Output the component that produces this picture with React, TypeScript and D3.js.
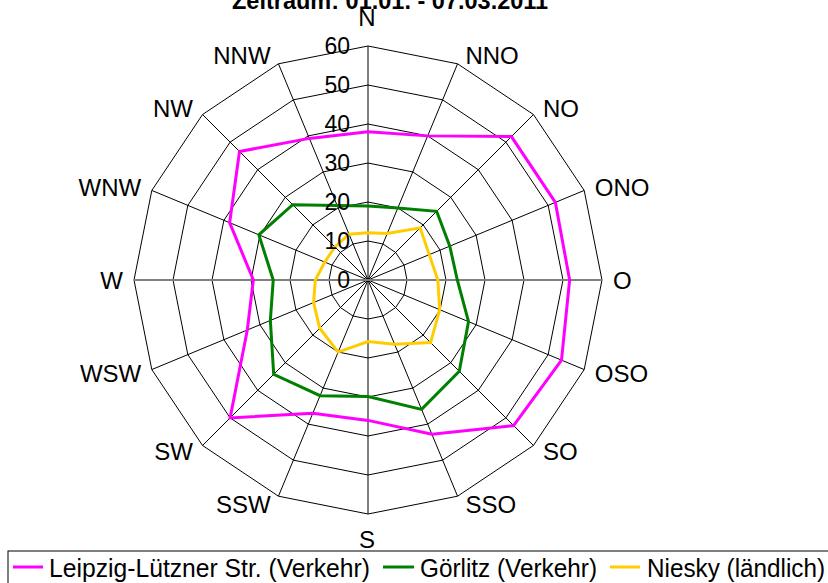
import React from "react";
import * as d3 from "d3";

const directions = ["N", "NNO", "NO", "ONO", "O", "OSO", "SO", "SSO", "S", "SSW", "SW", "WSW", "W", "WNW", "NW", "NNW"];
const leipzig = [38, 40, 52, 52, 51.7, 53.7, 52.8, 42.8, 36, 37, 50, 33.5, 29.4, 38.4, 46.6, 39.3];
const goerlitz = [19, 20, 24.9, 22.7, 22.9, 27.9, 33.1, 35.9, 29.9, 32.1, 34.2, 27.1, 24.3, 30.3, 27.3, 20.7];
const niesky = [12.1, 12.9, 18.9, 17, 17.9, 19.9, 22.7, 17.8, 15.8, 20, 17.5, 15.1, 13.5, 12, 12, 12.7];
const ticks = [0, 10, 20, 30, 40, 50, 60];
const seriesNames = ["Leipzig-Lützner Str. (Verkehr)", "Görlitz (Verkehr)", "Niesky (ländlich)"];
const seriesColors = ["#FF00FF", "#008000", "#FFCC00"];
const title = "Zeitraum: 01.01. - 07.03.2011";

export default function App() {
  const cx = 368;
  const cy = 280;
  const R = 234;
  const r = d3.scaleLinear().domain([0, 60]).range([0, R]);
  const n = directions.length;
  const ang = (i: number) => (i * 2 * Math.PI) / n;
  const pt = (i: number, v: number) => [r(v) * Math.sin(ang(i)), -r(v) * Math.cos(ang(i))];

  const ringLine = d3
    .lineRadial<number>()
    .angle((_, i) => ang(i))
    .radius((d) => r(d))
    .curve(d3.curveLinearClosed);

  const allSeries = [leipzig, goerlitz, niesky];
  const legendLayout = [
    { x1: 13, x2: 43, tx: 49, tw: 321 },
    { x1: 383, x2: 414, tx: 420, tw: 177 },
    { x1: 610, x2: 640, tx: 647, tw: 178 },
  ];

  return (
    <svg
      width={828}
      height={583}
      style={{ position: "absolute", left: 0, top: 0, background: "#fff" }}
      fontFamily="'Liberation Sans', Arial, sans-serif"
    >
      <rect x={0} y={0} width={828} height={583} fill="#fff" />
      <text x={232} y={9} fontSize={23.5} fontWeight="bold" fill="#000">
        {title}
      </text>
      <g transform={`translate(${cx},${cy})`}>
        {ticks.slice(1).map((t) => (
          <path key={t} d={ringLine(directions.map(() => t)) || ""} fill="none" stroke="#000" strokeWidth={1} />
        ))}
        {directions.map((d, i) => {
          const [x, y] = pt(i, 60);
          return <line key={d} x1={0} y1={0} x2={x} y2={y} stroke="#000" strokeWidth={1} />;
        })}
        <line x1={pt(12, 60)[0]} y1={0} x2={pt(4, 60)[0]} y2={0} stroke="#808080" strokeWidth={2} />
        {allSeries.map((s, k) => (
          <path
            key={k}
            d={ringLine(s) || ""}
            fill="none"
            stroke={seriesColors[k]}
            strokeWidth={3}
            strokeLinejoin="miter"
          />
        ))}
        {ticks.map((t) => (
          <text key={t} x={-18} y={-r(t) + 8.2} fontSize={23} textAnchor="end" fill="#000">
            {t}
          </text>
        ))}
        {directions.map((d, i) => {
          const [x, y] = pt(i, 60);
          const s = Math.sin(ang(i));
          const c = Math.cos(ang(i));
          if (Math.abs(s) < 1e-6) {
            const by = c > 0 ? y - 20.4 : y + 34;
            return (
              <text key={d} x={x - 1} y={by} fontSize={24} textAnchor="middle" fill="#000">
                {d}
              </text>
            );
          }
          const dx = (6 + 5 * Math.abs(s)) * Math.sign(s);
          const by = y - 9 * c + 8.6;
          return (
            <text key={d} x={x + dx} y={by} fontSize={24} textAnchor={s > 0 ? "start" : "end"} fill="#000">
              {d}
            </text>
          );
        })}
      </g>
      <rect x={8} y={551} width={830} height={50} fill="none" stroke="#000" strokeWidth={1} />
      {seriesNames.map((name, k) => (
        <g key={name}>
          <line x1={legendLayout[k].x1} x2={legendLayout[k].x2} y1={567} y2={567} stroke={seriesColors[k]} strokeWidth={3} />
          <text
            x={legendLayout[k].tx}
            y={577}
            fontSize={26}
            textLength={legendLayout[k].tw}
            lengthAdjust="spacingAndGlyphs"
            fill="#000"
          >
            {name}
          </text>
        </g>
      ))}
    </svg>
  );
}
